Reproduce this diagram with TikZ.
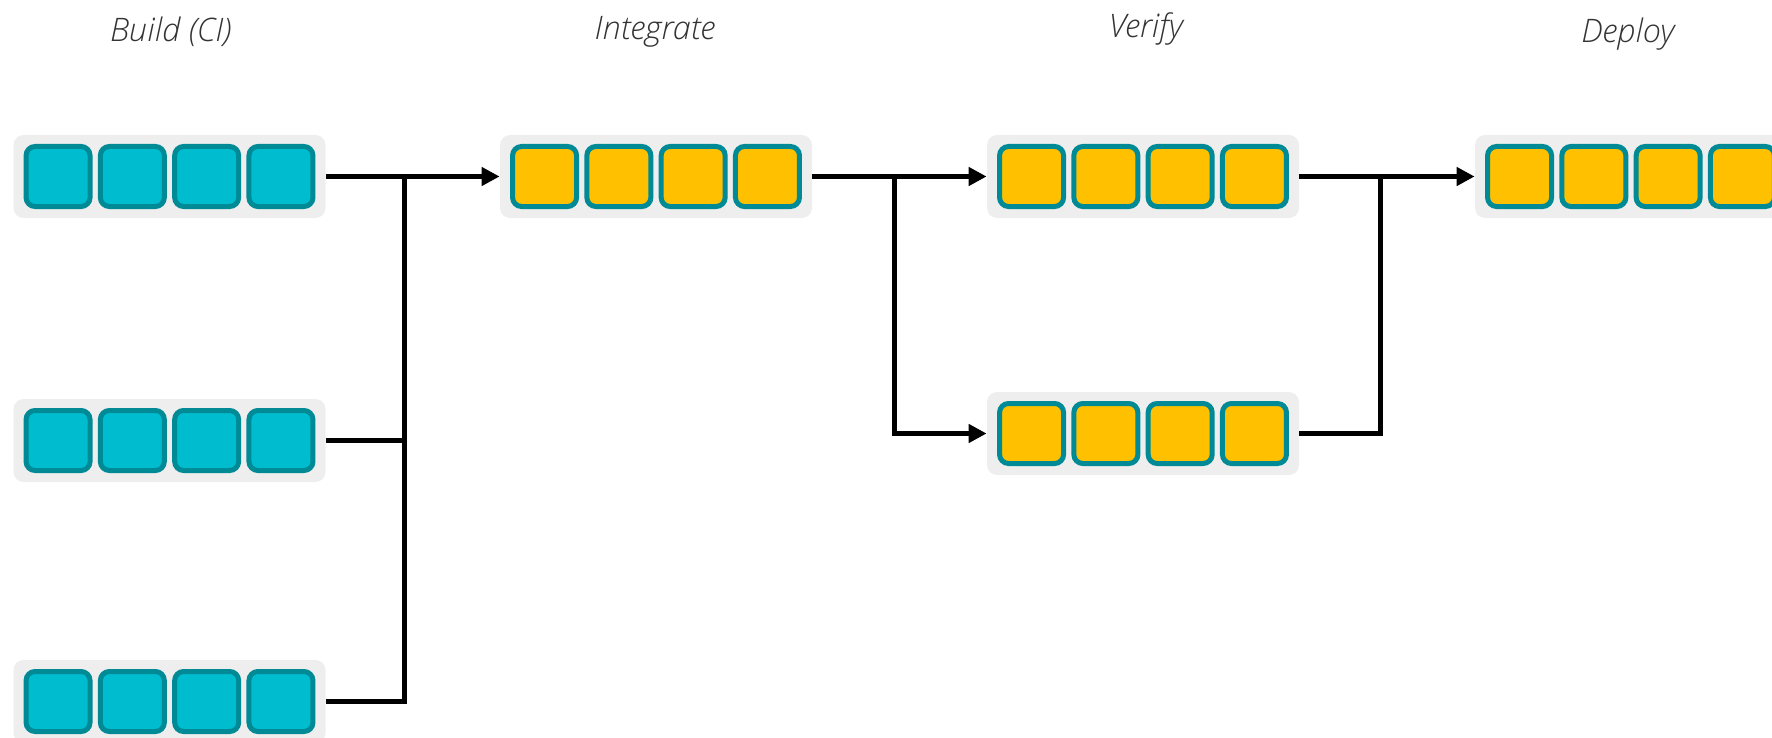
\documentclass[tikz,border=0pt]{standalone}
\usepackage{fontspec}
\setmainfont{Open Sans}[ItalicFont={Open Sans Light Italic}]
\usetikzlibrary{arrows.meta}
\definecolor{fondo}{HTML}{EEEEEE}
\definecolor{cian}{HTML}{00BCCF}
\definecolor{ambar}{HTML}{FFC000}
\definecolor{borde}{HTML}{008A96}
\definecolor{texto}{HTML}{333333}
\tikzset{
  contenedor/.style={fill=fondo, rounded corners=5pt, minimum width=156pt, minimum height=41.5pt, inner sep=0pt},
  cuadro/.style={draw=borde, line width=2.5pt, rounded corners=4.5pt, minimum width=32pt, minimum height=30pt, inner sep=0pt},
  etapa/.style={anchor=base, text=texto, font=\fontsize{16.2}{19}\selectfont\itshape},
  linea/.style={line width=2.5pt, black},
  flecha/.style={linea, -{Triangle[length=9pt, width=9pt]}}
}
\begin{document}
\begin{tikzpicture}[x=0.5pt, y=-0.5pt]
        \clip (0,0) rectangle (1772,738);
        %%%%%%%%%%%%%%%%%%%%%%%% Titulos de etapa %%%%%%%%%%%%%%%%%%%%%%%%%%%%%%%
        \node[etapa] (tbuild) at (171,42) {Build (CI)};
        \node[etapa] (tinteg) at (655,40) {Integrate};
        \node[etapa] (tverify) at (1146,38) {Verify};
        \node[etapa] (tdeploy) at (1628,43) {Deploy};
        %%%%%%%%%%%%%%%%%%%%%%%% Contenedores %%%%%%%%%%%%%%%%%%%%%%%%%%%%%%%%%%%
        \node[contenedor] (build1) at (169.5,176.5) {};
        \node[contenedor] (build2) at (169.5,440.5) {};
        \node[contenedor] (build3) at (169.5,701.5) {};
        \node[contenedor] (integ) at (656,176.5) {};
        \node[contenedor] (verify1) at (1143,176.5) {};
        \node[contenedor] (verify2) at (1143,433.5) {};
        \node[contenedor] (deploy) at (1631,176.5) {};
        %%%%%%%%%%%%%%%%%%%%%%%% Cuadros %%%%%%%%%%%%%%%%%%%%%%%%%%%%%%%%%%%%%%%
        \foreach \c in {build1, build2, build3}
          \foreach \i in {1,...,4}
            \node[cuadro, fill=cian] (\c-\i) at ([xshift={(\i-2.5)*37.15pt}]\c.center) {};
        \foreach \c in {integ, verify1, verify2, deploy}
          \foreach \i in {1,...,4}
            \node[cuadro, fill=ambar] (\c-\i) at ([xshift={(\i-2.5)*37.15pt}]\c.center) {};
        %%%%%%%%%%%%%%%%%%%%%%%% Uniones %%%%%%%%%%%%%%%%%%%%%%%%%%%%%%%%%%%%%%%%
        \coordinate (j1) at (404.5,176.5); %Union Build
        \coordinate (j2) at (894,176.5); %Union Integrate
        \coordinate (j3) at (1380,176.5); %Union Verify
        %%%%%%%%%%%%%%%%%%%%%%%% Conectores %%%%%%%%%%%%%%%%%%%%%%%%%%%%%%%%%%%%%
        \draw[flecha] (build1) -- (integ);
        \draw[linea] (build2.east) -- (build2.east -| j1);
        \draw[linea] (build3.east) -| (j1);
        \draw[flecha] (integ) -- (verify1);
        \draw[flecha] (j2) |- (verify2.west);
        \draw[flecha] (verify1) -- (deploy);
        \draw[linea] (verify2.east) -| (j3);
      \end{tikzpicture}
\end{document}
